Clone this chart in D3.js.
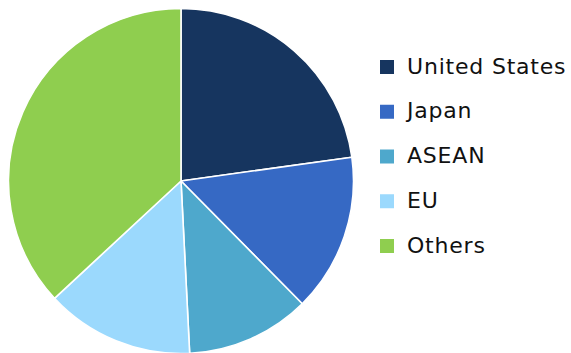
<!DOCTYPE html>
<html>
<head>
<meta charset="utf-8">
<script src="https://cdn.jsdelivr.net/npm/d3@7"></script>
<style>
  html, body { margin: 0; padding: 0; background: #fff; }
  svg { display: block; }
</style>
</head>
<body>
<svg id="chart" width="571" height="353"></svg>
<script>
// Share by region (%)
const regions = ["United States", "Japan", "ASEAN", "EU", "Others"];
const shares  = [22.8, 14.8, 11.6, 13.9, 36.9];
const colors  = ["#16355f", "#3669c4", "#4ea8cc", "#9bd9fd", "#8fce4f"];

const svg = d3.select("#chart");
const cx = 181, cy = 181, radius = 172.5;

const color = d3.scaleOrdinal().domain(regions).range(colors);

const pie = d3.pie().sort(null).value(d => d.value);
const arc = d3.arc().innerRadius(0).outerRadius(radius);

const data = regions.map((r, i) => ({ region: r, value: shares[i] }));

svg.append("g")
  .attr("transform", `translate(${cx},${cy})`)
  .selectAll("path")
  .data(pie(data))
  .join("path")
  .attr("d", arc)
  .attr("fill", d => color(d.data.region))
  .attr("stroke", "#fff")
  .attr("stroke-width", 1.6)
  .attr("stroke-linejoin", "round");

// Legend
const legendY = d3.scalePoint().domain(regions).range([67, 246]);
const legend = svg.append("g")
  .selectAll("g")
  .data(regions)
  .join("g")
  .attr("transform", d => `translate(380,${legendY(d)})`);

legend.append("rect")
  .attr("x", 0).attr("y", -7)
  .attr("width", 14).attr("height", 14)
  .attr("fill", d => color(d));

legend.append("text")
  .attr("x", 27).attr("y", 6.5)
  .attr("font-family", "'DejaVu Sans', sans-serif")
  .attr("font-size", 22)
  .attr("letter-spacing", 0.8)
  .attr("fill", "#111")
  .text(d => d);
</script>
</body>
</html>
